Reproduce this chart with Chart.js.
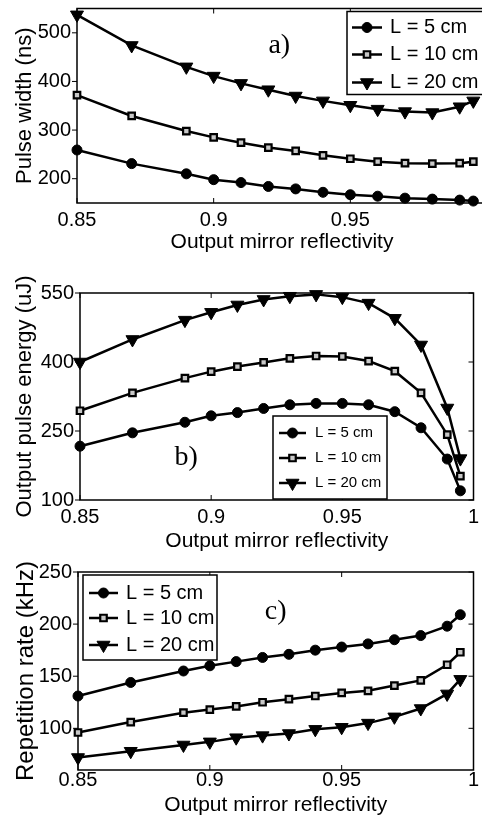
<!DOCTYPE html>
<html>
<head>
<meta charset="utf-8">
<title>Output mirror reflectivity</title>
<script src="https://cdn.jsdelivr.net/npm/chart.js@4/dist/chart.umd.min.js"></script>
<style>
  html, body { margin: 0; padding: 0; background: #fff; overflow: hidden; }
  body { width: 482px; height: 823px; position: relative; }
  canvas { position: absolute; left: 0; }
</style>
</head>
<body>
<canvas id="widthChart" width="500" height="258" style="top:0"></canvas>
<canvas id="energyChart" width="482" height="300" style="top:255px"></canvas>
<canvas id="rateChart" width="482" height="268" style="top:555px"></canvas>
<script>
// reflectivity of the output mirror (x for every panel)
const reflectivity = [0.85, 0.87, 0.89, 0.90, 0.91, 0.92, 0.93, 0.94, 0.95, 0.96, 0.97, 0.98, 0.99, 0.995];
const lengths = ["L = 5 cm", "L = 10 cm", "L = 20 cm"];

// a) pulse width, ns
const widthL5 = [259, 231, 210, 198, 192, 184, 179, 172, 167, 164, 160, 158, 156, 154];
const widthL10 = [372, 329, 298, 285, 274, 264, 257, 248, 241, 235, 232, 231, 232, 235];
const widthL20 = [537, 474, 430, 411, 396, 383, 370, 360, 351, 343, 338, 336, 348, 360];

// b) output pulse energy, uJ
const energyL5 = [217, 246, 269, 283, 290, 299, 307, 310, 310, 307, 292, 257, 189, 120];
const energyL10 = [294, 333, 365, 379, 390, 399, 408, 413, 412, 402, 380, 333, 242, 152];
const energyL20 = [400, 449, 491, 508, 524, 536, 543, 547, 541, 528, 495, 437, 300, 190];

// c) repetition rate, kHz
const rateL5 = [131, 144, 155, 160, 164, 168, 171, 175, 178, 181, 185, 189, 198, 209];
const rateL10 = [96, 106, 115, 118, 121, 125, 128, 131, 134, 136, 141, 146, 161, 173];
const rateL20 = [72, 78, 84, 87, 91, 93, 95, 99, 101, 105, 111, 119, 133, 147];

const xTicks = [0.85, 0.9, 0.95, 1];
const widthTicks = [200, 300, 400, 500];
const energyTicks = [100, 250, 400, 550];
const rateTicks = [100, 150, 200, 250];

Chart.defaults.color = "#000";
Chart.defaults.font.family = "'Liberation Sans', Arial, sans-serif";

const circle = { pointStyle: "circle", pointRadius: 5, pointBorderWidth: 1, pointBackgroundColor: "#000" };
const square = { pointStyle: "rect", pointRadius: 4.6, pointBorderWidth: 2.2, pointBackgroundColor: "#c8c8c8" };
const triangle = { pointStyle: "triangle", pointRadius: 7.5, pointRotation: 180, pointBorderWidth: 1, pointBackgroundColor: "#000" };

function series(label, values, marker) {
    return Object.assign({
        label: label,
        data: values.map((v, i) => ({ x: reflectivity[i], y: v })),
        borderColor: "#000",
        borderWidth: 2.5,
        pointBorderColor: "#000",
        tension: 0,
        clip: false
    }, marker);
}

// box around the plot, inward ticks (outward on the left side)
const frame = {
    id: "frame",
    beforeDatasetsDraw(chart) {
        const { ctx, chartArea: a, scales: { x, y } } = chart;
        ctx.save();
        ctx.strokeStyle = "#000";
        ctx.lineWidth = 1.5;
        ctx.strokeRect(a.left, a.top, a.right - a.left, a.bottom - a.top);
        ctx.lineWidth = 1;
        ctx.beginPath();
        x.ticks.forEach(t => {
            const px = x.getPixelForValue(t.value);
            ctx.moveTo(px, a.bottom); ctx.lineTo(px, a.bottom - 5);
            ctx.moveTo(px, a.top); ctx.lineTo(px, a.top + 5);
        });
        y.ticks.forEach(t => {
            const py = y.getPixelForValue(t.value);
            ctx.moveTo(a.left - 5, py); ctx.lineTo(a.left, py);
            ctx.moveTo(a.right, py); ctx.lineTo(a.right - 5, py);
        });
        ctx.stroke();
        ctx.restore();
    }
};

// legend drawn inside the plot with line + marker samples
const boxLegend = {
    id: "boxLegend",
    afterDatasetsDraw(chart, args, opts) {
        const ctx = chart.ctx;
        const left = chart.chartArea.left + opts.left;
        const top = chart.chartArea.top + opts.top;
        ctx.save();
        ctx.fillStyle = "#fff";
        ctx.fillRect(left, top, opts.width, opts.height);
        ctx.strokeStyle = "#000";
        ctx.lineWidth = 1.5;
        ctx.strokeRect(left, top, opts.width, opts.height);
        chart.data.datasets.forEach((ds, i) => {
            const y = top + opts.rows[i];
            ctx.strokeStyle = "#000";
            ctx.lineWidth = ds.borderWidth;
            ctx.beginPath();
            ctx.moveTo(left + opts.line[0], y);
            ctx.lineTo(left + opts.line[1], y);
            ctx.stroke();
            ctx.fillStyle = ds.pointBackgroundColor;
            ctx.lineWidth = ds.pointBorderWidth;
            Chart.helpers.drawPoint(ctx, {
                pointStyle: ds.pointStyle,
                radius: ds.pointRadius,
                rotation: ds.pointRotation || 0,
                borderWidth: ds.pointBorderWidth
            }, left + (opts.line[0] + opts.line[1]) / 2, y);
            ctx.fillStyle = "#000";
            ctx.font = opts.font;
            ctx.textAlign = "left";
            ctx.textBaseline = "middle";
            ctx.fillText(ds.label, left + opts.textX, y);
        });
        ctx.restore();
    }
};

// panel letter, placed in data coordinates
const panelTag = {
    id: "panelTag",
    afterDraw(chart, args, opts) {
        const ctx = chart.ctx;
        ctx.save();
        ctx.fillStyle = "#000";
        ctx.font = "28px 'Liberation Serif', 'Times New Roman', serif";
        ctx.textAlign = "center";
        ctx.textBaseline = "middle";
        ctx.fillText(opts.text, chart.scales.x.getPixelForValue(opts.x), chart.scales.y.getPixelForValue(opts.y));
        ctx.restore();
    }
};

function makeChart(id, cfg) {
    const canvas = document.getElementById(id);
    const H = canvas.height;
    const W = canvas.width;
    return new Chart(canvas.getContext("2d"), {
        type: "line",
        data: { datasets: cfg.datasets },
        plugins: [frame, boxLegend, panelTag],
        options: {
            responsive: false,
            animation: false,
            events: [],
            layout: { padding: { left: 0, top: cfg.area.top, right: W - cfg.area.right, bottom: 0 } },
            plugins: {
                legend: { display: false },
                tooltip: { enabled: false },
                boxLegend: cfg.legend,
                panelTag: cfg.tag
            },
            scales: {
                x: {
                    type: "linear", min: 0.85, max: 1,
                    grid: { display: false, drawTicks: false },
                    border: { display: false },
                    ticks: {
                        autoSkip: false, maxRotation: 0, padding: cfg.xTickPad,
                        font: { size: 20, lineHeight: 1 },
                        callback: v => String(v)
                    },
                    afterBuildTicks: s => { s.ticks = xTicks.map(v => ({ value: v })); },
                    afterFit: s => {
                        s.height = H - cfg.area.bottom;
                        s.paddingLeft = s.paddingRight = s.paddingTop = s.paddingBottom = 0;
                    },
                    title: {
                        display: true, text: "Output mirror reflectivity",
                        font: { size: 21, lineHeight: 1.2 },
                        padding: { top: 0, bottom: cfg.xTitlePad }
                    }
                },
                y: {
                    type: "linear", min: cfg.yRange[0], max: cfg.yRange[1],
                    grid: { display: false, drawTicks: false },
                    border: { display: false },
                    ticks: {
                        autoSkip: false, padding: 6,
                        font: { size: 20, lineHeight: 1 },
                        callback: v => String(v)
                    },
                    afterBuildTicks: s => { s.ticks = cfg.yTicks.map(v => ({ value: v })); },
                    afterFit: s => {
                        s.width = cfg.area.left;
                        s.paddingLeft = s.paddingRight = s.paddingTop = s.paddingBottom = 0;
                    },
                    title: {
                        display: true, text: cfg.yTitle,
                        font: { size: cfg.yTitleSize, lineHeight: 1.2 },
                        padding: { top: 12, bottom: 0 }
                    }
                }
            }
        }
    });
}

makeChart("widthChart", {
    datasets: [
        series(lengths[0], widthL5, circle),
        series(lengths[1], widthL10, square),
        series(lengths[2], widthL20, triangle)
    ],
    area: { left: 77, right: 487, top: 7, bottom: 203 },
    yRange: [150, 550], yTicks: widthTicks,
    yTitle: "Pulse width (ns)", yTitleSize: 22,
    xTickPad: 7, xTitlePad: 3,
    legend: { left: 270, top: 3, width: 160, height: 83, rows: [16, 43, 71], line: [5, 35], textX: 43, font: "20px 'Liberation Sans', Arial, sans-serif" },
    tag: { text: "a)", x: 0.924, y: 474 }
});

makeChart("energyChart", {
    datasets: [
        series(lengths[0], energyL5, circle),
        series(lengths[1], energyL10, square),
        series(lengths[2], energyL20, triangle)
    ],
    area: { left: 80, right: 480, top: 38, bottom: 245 },
    yRange: [100, 550], yTicks: energyTicks,
    yTitle: "Output pulse energy (uJ)", yTitleSize: 22,
    xTickPad: 7, xTitlePad: 1,
    legend: { left: 193, top: 123, width: 114, height: 83, rows: [17, 42, 67], line: [6, 33], textX: 42, font: "15px 'Liberation Sans', Arial, sans-serif" },
    tag: { text: "b)", x: 0.8905, y: 191 }
});

makeChart("rateChart", {
    datasets: [
        series(lengths[0], rateL5, circle),
        series(lengths[1], rateL10, square),
        series(lengths[2], rateL20, triangle)
    ],
    area: { left: 78, right: 480, top: 17, bottom: 215 },
    yRange: [60, 250], yTicks: rateTicks,
    yTitle: "Repetition rate (kHz)", yTitleSize: 24,
    xTickPad: 0, xTitlePad: 5,
    legend: { left: 5, top: 3, width: 134, height: 85, rows: [18, 43, 70], line: [6, 35], textX: 43, font: "20px 'Liberation Sans', Arial, sans-serif" },
    tag: { text: "c)", x: 0.925, y: 212 }
});
</script>
</body>
</html>
